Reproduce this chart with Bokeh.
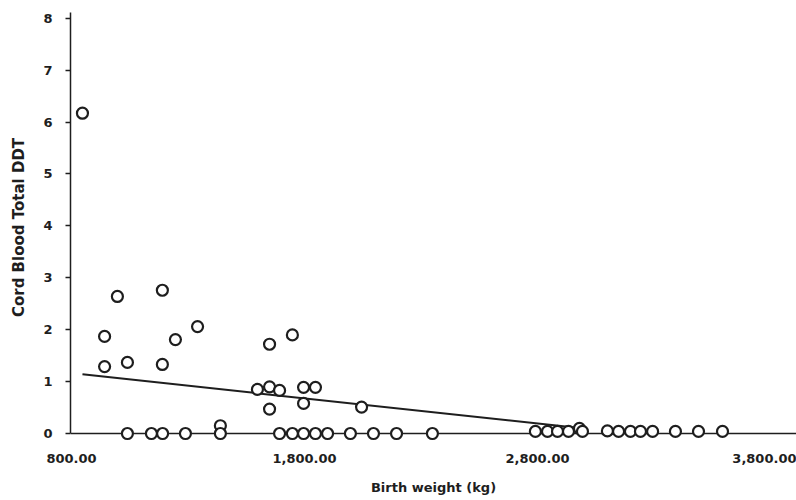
from bokeh.plotting import figure
from bokeh.models import Range1d, FixedTicker, NumeralTickFormatter, Span
from bokeh.embed import file_html
from bokeh.resources import INLINE

# ---- data ----
birth_weight = [847, 942, 942, 997, 1040, 1190, 1190, 1246, 1341, 1439,
                1598, 1650, 1650, 1650, 1693, 1748, 1796, 1796, 1847, 2045,
                1040, 1143, 1191, 1289, 1439, 1693, 1748, 1796, 1847, 1899,
                1997, 2096, 2195, 2349,
                2791, 2843, 2886, 2933, 2980, 2993, 3100, 3148, 3199, 3242,
                3294, 3392, 3491, 3594]
cord_ddt = [6.17, 1.87, 1.29, 2.64, 1.37, 2.76, 1.33, 1.81, 2.06, 0.15,
            0.85, 0.90, 0.47, 1.72, 0.83, 1.90, 0.89, 0.58, 0.89, 0.51,
            0.0, 0.0, 0.0, 0.0, 0.0, 0.0, 0.0, 0.0, 0.0, 0.0,
            0.0, 0.0, 0.0, 0.0,
            0.04, 0.04, 0.04, 0.04, 0.10, 0.04, 0.05, 0.04, 0.04, 0.04,
            0.04, 0.04, 0.04, 0.04]

fit_x = [847, 2990]
fit_y = [1.14, 0.10]

x_ticks = [800, 1800, 2800, 3800]
y_ticks = [0, 1, 2, 3, 4, 5, 6, 7, 8]

x_title = "Birth weight (kg)"
y_title = "Cord Blood Total DDT"

# ---- styling ----
INK = "#1e1e1e"
FONT = "DejaVu Sans"
Y_TOP = 8.11

p = figure(width=796, height=500, output_backend="svg", toolbar_location=None,
           x_range=Range1d(795.7, 3911.6), y_range=Range1d(-0.173, Y_TOP),
           min_border_left=70, min_border_right=0, min_border_top=12,
           min_border_bottom=58)
p.grid.visible = False
p.outline_line_color = None
p.background_fill_color = "white"
p.border_fill_color = "white"

# x "axis line" at y = 0
p.add_layout(Span(location=0, dimension="width", line_color=INK,
                  line_width=1.5, level="underlay"))

p.line(fit_x, fit_y, line_color=INK, line_width=2)
p.scatter(birth_weight, cord_ddt, marker="circle", size=11, line_width=2.2,
          line_color=INK, fill_color="white")

# y axis
ya = p.yaxis[0]
ya.ticker = FixedTicker(ticks=y_ticks)
ya.bounds = (0, Y_TOP)
ya.axis_line_color = INK
ya.axis_line_width = 1.5
ya.major_tick_line_color = INK
ya.major_tick_line_width = 1.5
ya.major_tick_out = 5
ya.major_tick_in = 0
ya.minor_tick_line_color = None
ya.major_label_standoff = 13
ya.major_label_text_font = FONT
ya.major_label_text_font_style = "bold"
ya.major_label_text_font_size = "13px"
ya.major_label_text_color = INK
ya.axis_label = y_title
ya.axis_label_standoff = 12
ya.axis_label_text_font = FONT
ya.axis_label_text_font_style = "bold"
ya.axis_label_text_font_size = "15px"
ya.axis_label_text_color = INK

# x axis
xa = p.xaxis[0]
xa.ticker = FixedTicker(ticks=x_ticks)
xa.formatter = NumeralTickFormatter(format="0,0.00")
xa.axis_line_color = None
xa.major_tick_out = 0
xa.major_tick_in = 0
xa.major_tick_line_color = None
xa.minor_tick_line_color = None
xa.major_label_standoff = 11
xa.major_label_text_font = FONT
xa.major_label_text_font_style = "bold"
xa.major_label_text_font_size = "13px"
xa.major_label_text_color = INK
xa.axis_label = x_title
xa.axis_label_standoff = 14
xa.axis_label_text_font = FONT
xa.axis_label_text_font_style = "bold"
xa.axis_label_text_font_size = "13px"
xa.axis_label_text_color = INK

open("out.html", "w").write(file_html(p, INLINE))
